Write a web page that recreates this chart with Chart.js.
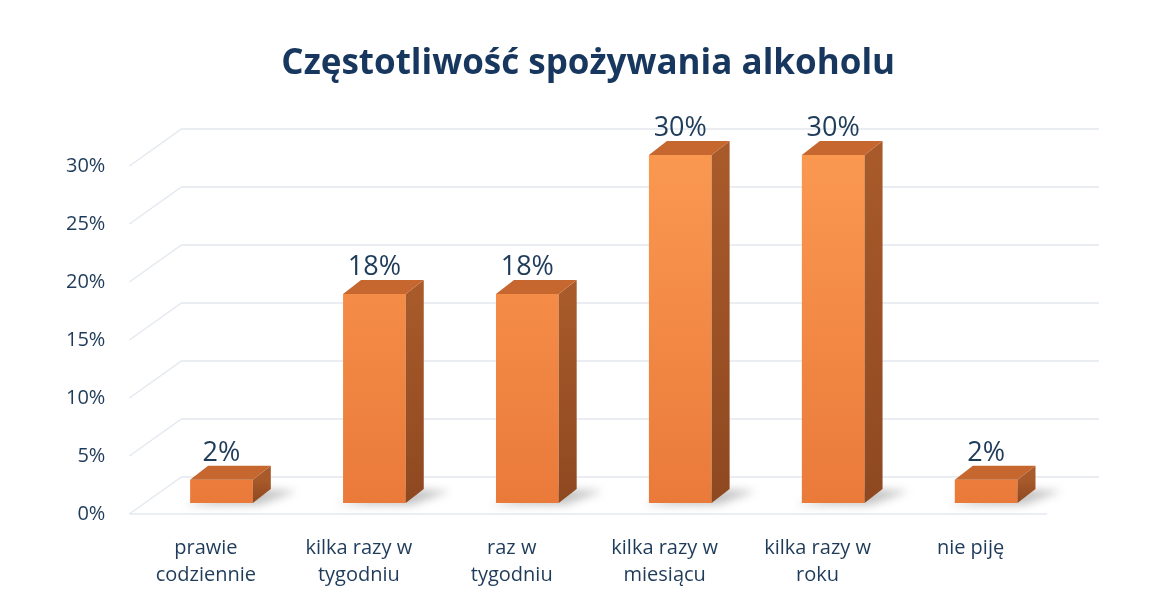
<!DOCTYPE html>
<html>
<head>
<meta charset="utf-8">
<script src="https://cdn.jsdelivr.net/npm/chart.js@4"></script>
<style>
  html, body { margin: 0; padding: 0; background: #fff; }
  #wrap { width: 1160px; height: 603px; }
</style>
</head>
<body>
<div id="wrap"><canvas id="chart" width="1160" height="603"></canvas></div>
<script>
// dane z wykresu
const kategorie = [
  ["prawie", "codziennie"],
  ["kilka razy w", "tygodniu"],
  ["raz w", "tygodniu"],
  ["kilka razy w", "miesiącu"],
  ["kilka razy w", "roku"],
  "nie piję"
];
const wartosci = [2, 18, 18, 30, 30, 2];
const tickiY = [0, 5, 10, 15, 20, 25, 30];

// glebokosc "pudelka" 3D
const DX = 52, DY = -37;
const PRZESUNIECIE = 0.3;
const BAR_DX = 18, BAR_DY = -14;

const granatowy = "#1F3B5A";

// ===============================
// sciany, siatka i cienie pod slupkami
// ===============================
const efekt3d = {
  id: "efekt3d",
  beforeDatasetsDraw(chart) {
    const { ctx, chartArea: a, scales } = chart;
    const y = scales.y;
    ctx.save();
    ctx.strokeStyle = "#E4E9F0";
    ctx.lineWidth = 1.5;
    tickiY.forEach(v => {
      const py = y.getPixelForValue(v);
      ctx.beginPath();
      ctx.moveTo(a.left, py);
      ctx.lineTo(a.left + DX, py + DY);
      ctx.lineTo(a.right + DX, py + DY);
      ctx.stroke();
    });
    // przednia krawedz podlogi
    ctx.beginPath();
    ctx.moveTo(a.left, a.bottom);
    ctx.lineTo(a.right, a.bottom);
    ctx.stroke();
    ctx.restore();

    ctx.save();
    ctx.translate(DX * PRZESUNIECIE, DY * PRZESUNIECIE);
    // cienie
    const meta = chart.getDatasetMeta(0);
    meta.data.forEach(el => {
      const { x, base, width } = el.getProps(["x", "base", "width"], true);
      const r = x + width / 2;
      ctx.save();
      ctx.filter = "blur(4px)";
      ctx.fillStyle = "rgba(90,90,90,0.35)";
      ctx.beginPath();
      ctx.moveTo(x - width / 2 - 6, base + 2);
      ctx.lineTo(r + 6, base + 2);
      ctx.lineTo(r + BAR_DX + 26, base + BAR_DY + 2);
      ctx.lineTo(r, base + BAR_DY);
      ctx.closePath();
      ctx.fill();
      ctx.restore();
    });
  },
  afterDatasetsDraw(chart) {
    const { ctx } = chart;
    const meta = chart.getDatasetMeta(0);
    meta.data.forEach((el, i) => {
      const { x, y, base, width } = el.getProps(["x", "y", "base", "width"], true);
      const l = x - width / 2, r = x + width / 2;
      // bok
      const gs = ctx.createLinearGradient(0, y, 0, base);
      gs.addColorStop(0, "#A85A2A");
      gs.addColorStop(1, "#8E4820");
      ctx.fillStyle = gs;
      ctx.beginPath();
      ctx.moveTo(r, y);
      ctx.lineTo(r + BAR_DX, y + BAR_DY);
      ctx.lineTo(r + BAR_DX, base + BAR_DY);
      ctx.lineTo(r, base);
      ctx.closePath();
      ctx.fill();
      // gora
      ctx.fillStyle = "#C5672F";
      ctx.beginPath();
      ctx.moveTo(l, y);
      ctx.lineTo(l + BAR_DX, y + BAR_DY);
      ctx.lineTo(r + BAR_DX, y + BAR_DY);
      ctx.lineTo(r, y);
      ctx.closePath();
      ctx.fill();
      // etykieta
      ctx.fillStyle = granatowy;
      ctx.font = "27px 'Open Sans'";
      ctx.textAlign = "center";
      ctx.textBaseline = "alphabetic";
      ctx.fillText(wartosci[i] + "%", x, y + BAR_DY - 5);
    });
    ctx.restore();
  }
};

new Chart(document.getElementById("chart"), {
  type: "bar",
  data: {
    labels: kategorie,
    datasets: [{
      data: wartosci,
      clip: false,
      barPercentage: 0.41,
      categoryPercentage: 1,
      backgroundColor: c => {
        const a = c.chart.chartArea;
        if (!a) return "#F58C45";
        const g = c.chart.ctx.createLinearGradient(0, a.top, 0, a.bottom);
        g.addColorStop(0, "#FA9850");
        g.addColorStop(1, "#EA7A3A");
        return g;
      },
      borderWidth: 0
    }]
  },
  options: {
    responsive: false,
    animation: false,
    layout: { padding: { left: 50, right: 113, top: 0, bottom: 1 } },
    plugins: {
      legend: { display: false },
      tooltip: { enabled: false },
      title: {
        display: true,
        fullSize: false,
        text: "Częstotliwość spożywania alkoholu",
        color: "#17375E",
        font: { family: "'Open Sans'", size: 35, weight: "bold" },
        padding: { top: 43, bottom: 81 }
      }
    },
    scales: {
      x: {
        grid: { display: false },
        border: { display: false },
        ticks: {
          color: granatowy,
          padding: 13,
          maxRotation: 0,
          autoSkip: false,
          font: { family: "'Open Sans'", size: 20, lineHeight: 1.35 }
        }
      },
      y: {
        min: 0,
        max: 30,
        grid: { display: false },
        border: { display: false },
        afterBuildTicks: s => { s.ticks = tickiY.map(v => ({ value: v })); },
        ticks: {
          color: granatowy,
          padding: 16,
          font: { family: "'Open Sans'", size: 20 },
          callback: v => v + "%"
        }
      }
    }
  },
  plugins: [efekt3d]
});
</script>
</body>
</html>
